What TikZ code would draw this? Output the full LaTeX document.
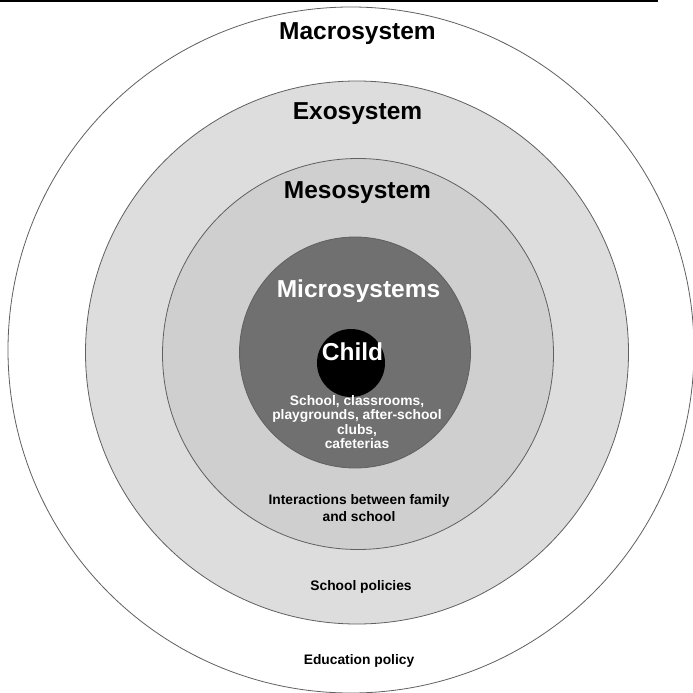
\documentclass[tikz,border=0pt]{standalone}
\usepackage{fontspec}
\setmainfont{Liberation Sans}
\definecolor{ringline}{HTML}{606060}
\definecolor{exofill}{HTML}{DDDDDD}
\definecolor{mesofill}{HTML}{CFCFCF}
\definecolor{microfill}{HTML}{707070}
\tikzset{
  ring/.style={circle, draw=ringline, line width=0.8pt, inner sep=0pt},
  biglabel/.style={font=\bfseries\fontsize{24.5}{28}\selectfont, inner sep=0pt, anchor=base},
  smalllabel/.style={font=\bfseries\fontsize{13.8}{17}\selectfont, inner sep=0pt, align=center},
}
\begin{document}
\begin{tikzpicture}[x=1pt, y=-1pt]
\useasboundingbox (0,0) rectangle (693,693);
\fill[white] (0,0) rectangle (693,693);
% top rule
\coordinate (ruleL) at (0,1);
\coordinate (ruleR) at (658,1);
\draw[line width=1.6pt, black] (ruleL) -- (ruleR);
% circles
\node[ring, fill=white, minimum size=686pt] (macro) at (351,350) {};
\node[ring, fill=exofill, minimum size=543pt] (exo) at (357,352.5) {};
\node[ring, fill=mesofill, minimum size=391pt] (meso) at (358,354) {};
\node[ring, fill=microfill, minimum size=231pt] (micro) at (355,352.5) {};
\node[circle, fill=black, inner sep=0pt, minimum size=68pt] (child) at (351,363) {};
% labels
\node[biglabel] (tmacro) at (357.5,40) {Macrosystem};
\node[biglabel] (texo) at (357.5,119) {Exosystem};
\node[biglabel] (tmeso) at (357.5,198) {Mesosystem};
\node[biglabel, text=white] (tmicro) at (358.5,297) {Microsystems};
\node[biglabel, text=white] (tchild) at (352.5,360) {Child};
\node[smalllabel, text=white, font=\bfseries\fontsize{13.8}{14.4}\selectfont] (tmicrodesc) at (357,422)
  {School, classrooms,\\playgrounds, after-school\\clubs,\\cafeterias};
\node[smalllabel] (tmesodesc) at (359,508) {Interactions between family\\and school};
\node[smalllabel, anchor=base] (texodesc) at (361,590) {School policies};
\node[smalllabel, anchor=base] (tmacrodesc) at (359,664) {Education policy};
\end{tikzpicture}
\end{document}
